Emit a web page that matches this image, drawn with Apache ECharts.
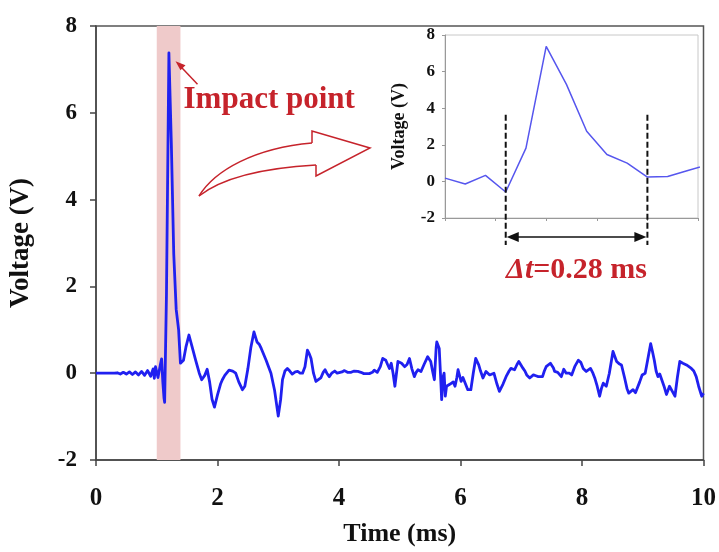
<!DOCTYPE html>
<html>
<head>
<meta charset="utf-8">
<script src="https://cdn.jsdelivr.net/npm/echarts@6/dist/echarts.min.js"></script>
<style>
html,body{margin:0;padding:0;background:#fff;}
#chart{width:719px;height:552px;}
</style>
</head>
<body>
<div id="chart"></div>
<script>
// ---- data ----
const mainTime = [0.00,0.10,0.20,0.30,0.35,0.40,0.45,0.50,0.55,0.60,0.65,0.70,0.75,0.80,0.85,0.90,0.94,0.96,0.98,1.00,1.02,1.04,1.06,1.08,1.10,1.12,1.13,1.16,1.20,1.21,1.24,1.28,1.32,1.36,1.39,1.44,1.48,1.53,1.58,1.64,1.70,1.74,1.79,1.83,1.87,1.91,1.95,2.00,2.05,2.08,2.12,2.15,2.19,2.25,2.30,2.35,2.41,2.45,2.50,2.55,2.60,2.65,2.69,2.72,2.80,2.88,2.94,3.00,3.04,3.07,3.11,3.15,3.19,3.23,3.28,3.32,3.36,3.40,3.44,3.48,3.51,3.54,3.58,3.62,3.66,3.70,3.74,3.77,3.80,3.84,3.88,3.93,3.97,4.00,4.05,4.09,4.14,4.20,4.25,4.31,4.36,4.41,4.50,4.55,4.58,4.63,4.68,4.72,4.77,4.80,4.83,4.86,4.89,4.92,4.97,5.03,5.08,5.12,5.16,5.20,5.24,5.27,5.30,5.35,5.40,5.46,5.51,5.54,5.57,5.60,5.61,5.65,5.67,5.69,5.71,5.73,5.75,5.77,5.80,5.83,5.85,5.88,5.91,5.94,5.96,6.01,6.04,6.07,6.12,6.17,6.21,6.25,6.30,6.33,6.37,6.42,6.45,6.48,6.55,6.60,6.64,6.70,6.75,6.80,6.83,6.89,6.93,6.96,7.03,7.06,7.09,7.14,7.20,7.24,7.28,7.35,7.38,7.41,7.48,7.53,7.55,7.60,7.63,7.66,7.70,7.74,7.79,7.83,7.88,7.94,7.98,8.02,8.07,8.10,8.14,8.18,8.21,8.25,8.29,8.32,8.35,8.40,8.45,8.51,8.57,8.61,8.65,8.70,8.74,8.77,8.80,8.84,8.88,8.91,8.95,8.99,9.04,9.08,9.13,9.16,9.19,9.22,9.25,9.28,9.31,9.35,9.39,9.44,9.48,9.53,9.57,9.61,9.66,9.69,9.72,9.76,9.80,9.84,9.88,9.92,9.97,10.00];
const mainVolt = [0,0,0,0,0.01,-0.02,0.02,-0.02,0.03,-0.03,0.03,-0.04,0.04,-0.05,0.06,-0.07,0.10,-0.12,0.15,0.18,-0.10,-0.14,0.20,0.33,-0.20,-0.58,-0.67,1.82,7.38,7.42,5.30,2.74,1.47,1.00,0.23,0.30,0.60,0.88,0.62,0.30,0.00,-0.15,-0.05,0.09,-0.20,-0.60,-0.78,-0.50,-0.25,-0.15,-0.05,-0.03,0.07,0.05,0.00,-0.20,-0.38,-0.30,0.10,0.60,0.95,0.72,0.66,0.57,0.30,0.00,-0.40,-0.99,-0.60,-0.15,0.05,0.11,0.05,-0.02,0.03,0.04,0.00,0.00,0.15,0.53,0.45,0.34,0.00,-0.19,-0.15,-0.11,0.02,0.08,0.00,-0.08,0.00,0.05,0.00,-0.01,0.03,0.06,0.02,0.02,0.05,0.04,0.02,-0.01,-0.01,0.02,0.07,0.02,0.15,0.34,0.30,0.20,0.11,0.23,0.00,-0.30,0.27,0.23,0.15,0.20,0.34,0.10,-0.08,0.02,0.08,0.04,0.20,0.38,0.27,0.05,-0.15,0.60,0.72,0.57,0.00,-0.61,-0.10,0.00,-0.53,-0.30,-0.34,-0.25,-0.27,-0.20,-0.30,-0.10,0.08,-0.19,-0.10,-0.08,-0.38,-0.38,0.00,0.34,0.19,0.05,-0.11,0.04,0.00,-0.04,0.00,-0.25,-0.42,-0.25,-0.08,0.05,0.11,0.08,0.20,0.27,0.11,0.05,-0.04,-0.11,-0.04,-0.06,-0.08,-0.08,0.05,0.15,0.23,0.12,0.04,0.02,0.00,-0.08,0.09,0.00,0.00,-0.04,0.15,0.30,0.25,0.11,0.04,0.08,0.11,0.00,-0.11,-0.30,-0.53,-0.35,-0.23,-0.30,0.00,0.50,0.27,0.22,0.19,-0.10,-0.35,-0.46,-0.42,-0.38,-0.45,-0.49,-0.20,-0.04,0.00,0.30,0.68,0.50,0.30,0.05,-0.08,-0.02,0.00,-0.30,-0.49,-0.30,-0.40,-0.53,-0.10,0.27,0.23,0.25,0.19,0.15,0.11,0.05,-0.08,-0.30,-0.53,-0.46];
const insetTime = [1.00,1.04,1.08,1.12,1.16,1.20,1.24,1.28,1.32,1.36,1.40,1.44,1.48,1.52];
const insetVolt = [0.18,-0.14,0.33,-0.58,1.82,7.38,5.30,2.74,1.47,1.00,0.24,0.27,0.60,0.92];
const xTicks = [0,2,4,6,8,10];
const yTicks = [-2,0,2,4,6,8];
const impactBand = [1.0, 1.39];
const peak = [1.21, 7.42];
const deltaMarks = [1.12, 1.40];

const SERIF = "'Liberation Serif','Times New Roman',serif";
const RED = '#c6232b';

const chart = echarts.init(document.getElementById('chart'), null, {renderer:'canvas'});

const zip = (a,b) => a.map((t,i) => [t,b[i]]);

chart.setOption({
  backgroundColor:'#fff',
  animation:false,
  grid:[
    {left:96, top:26, right:15, bottom:88, show:true, borderColor:'#555', borderWidth:1.5, backgroundColor:'transparent'},
    {left:445, top:35, width:253, height:183, show:true, borderColor:'#c8c8c8', borderWidth:1, backgroundColor:'#fff', z:5}
  ],
  xAxis:[
    {type:'value', gridIndex:0, min:xTicks[0], max:xTicks[xTicks.length-1], interval:2,
     name:'Time (ms)', nameLocation:'middle', nameGap:61,
     nameTextStyle:{fontFamily:SERIF, fontWeight:'bold', fontSize:26, color:'#111'},
     axisLine:{onZero:false, lineStyle:{color:'#444', width:1.5}},
     axisTick:{show:true, inside:false, length:6, lineStyle:{color:'#444', width:1.5}},
     axisLabel:{fontFamily:SERIF, fontWeight:'bold', fontSize:25, color:'#111', margin:26},
     splitLine:{show:false}},
    {type:'value', gridIndex:1, min:1.0, max:1.5, interval:0.1, z:6,
     axisLine:{onZero:false, lineStyle:{color:'#999', width:1}},
     axisTick:{show:true, length:3, lineStyle:{color:'#999'}},
     axisLabel:{show:false}, splitLine:{show:false}}
  ],
  yAxis:[
    {type:'value', gridIndex:0, min:yTicks[0], max:yTicks[yTicks.length-1], interval:2,
     name:'Voltage (V)', nameLocation:'middle', nameGap:61, nameRotate:90,
     nameTextStyle:{fontFamily:SERIF, fontWeight:'bold', fontSize:27, color:'#111'},
     axisLine:{show:true, onZero:false, lineStyle:{color:'#444', width:1.5}},
     axisTick:{show:true, inside:false, length:6, lineStyle:{color:'#444', width:1.5}},
     axisLabel:{fontFamily:SERIF, fontWeight:'bold', fontSize:23, color:'#111', margin:19},
     splitLine:{show:false}},
    {type:'value', gridIndex:1, min:-2, max:8, interval:2, z:6,
     name:'Voltage (V)', nameLocation:'middle', nameGap:37, nameRotate:90,
     nameTextStyle:{fontFamily:SERIF, fontWeight:'bold', fontSize:18, color:'#111'},
     axisLine:{show:true, onZero:false, lineStyle:{color:'#999', width:1}},
     axisTick:{show:true, length:3, lineStyle:{color:'#999'}},
     axisLabel:{fontFamily:SERIF, fontWeight:'bold', fontSize:17, color:'#111', margin:10},
     splitLine:{show:false}}
  ],
  series:[
    {type:'line', xAxisIndex:0, yAxisIndex:0, data:zip(mainTime, mainVolt),
     showSymbol:false, smooth:false, z:3,
     lineStyle:{color:'#2020f0', width:2.8, join:'round'},
     markArea:{silent:true, z:1, itemStyle:{color:'#efcaca'},
       data:[[{xAxis:impactBand[0]},{xAxis:impactBand[1]}]]}},
    {type:'line', xAxisIndex:1, yAxisIndex:1, data:zip(insetTime, insetVolt),
     showSymbol:false, clip:true, z:7,
     lineStyle:{color:'#5656ee', width:1.5}}
  ]
});

// ---- annotations positioned from the axes ----
const px = (gi, p) => chart.convertToPixel({gridIndex:gi}, p);
const pk = px(0, peak);
const g = [];
// "Impact point" label and pointer
g.push({type:'text', z:20, style:{text:'Impact point', x:pk[0]+14, y:pk[1]+49, fill:RED,
  font:"bold 31px "+SERIF, textAlign:'left', textVerticalAlign:'middle'}});
g.push({type:'line', z:20, shape:{x1:pk[0]+28, y1:pk[1]+33, x2:pk[0]+9, y2:pk[1]+13},
  style:{stroke:RED, lineWidth:1.5}});
g.push({type:'polygon', z:20, shape:{points:[[pk[0]+6,pk[1]+10],[pk[0]+16,pk[1]+14],[pk[0]+11,pk[1]+19]]},
  style:{fill:RED}});
// big hollow curved arrow (two curves + head outline)
g.push({type:'bezierCurve', z:20, shape:{x1:199, y1:196, cpx1:215, cpy1:170, cpx2:255, cpy2:148, x2:312, y2:143},
  style:{stroke:RED, lineWidth:1.5, fill:null}});
g.push({type:'bezierCurve', z:20, shape:{x1:316, y1:165, cpx1:262, cpy1:168, cpx2:222, cpy2:178, x2:199, y2:196},
  style:{stroke:RED, lineWidth:1.5, fill:null}});
g.push({type:'polyline', z:20, shape:{points:[[312,143],[312,131],[370,148],[316,176],[316,165]]},
  style:{stroke:RED, lineWidth:1.5, fill:null}});
// delta t markers in the inset
const a = px(1, [deltaMarks[0], 3.64]);
const b = px(1, [deltaMarks[1], 3.64]);
const yBot = 245, yArr = 237;
[a, b].forEach(p => g.push({type:'line', z:20, shape:{x1:p[0], y1:p[1], x2:p[0], y2:yBot},
  style:{stroke:'#111', lineWidth:2, lineDash:[6,3]}}));
g.push({type:'line', z:20, shape:{x1:a[0]+4, y1:yArr, x2:b[0]-4, y2:yArr}, style:{stroke:'#111', lineWidth:1.5}});
g.push({type:'polygon', z:20, shape:{points:[[a[0]+1,yArr],[a[0]+13,yArr-5],[a[0]+13,yArr+5]]}, style:{fill:'#111'}});
g.push({type:'polygon', z:20, shape:{points:[[b[0]-1,yArr],[b[0]-13,yArr-5],[b[0]-13,yArr+5]]}, style:{fill:'#111'}});
g.push({type:'text', z:20, style:{
  text:'{i|Δt}{n|=0.28 ms}', x:(a[0]+b[0])/2, y:270, textAlign:'center', textVerticalAlign:'middle',
  rich:{i:{fontFamily:SERIF, fontWeight:'bold', fontStyle:'italic', fontSize:30, fill:RED, color:RED},
        n:{fontFamily:SERIF, fontWeight:'bold', fontSize:30, fill:RED, color:RED}}}});
chart.setOption({graphic:g});
</script>
</body>
</html>
